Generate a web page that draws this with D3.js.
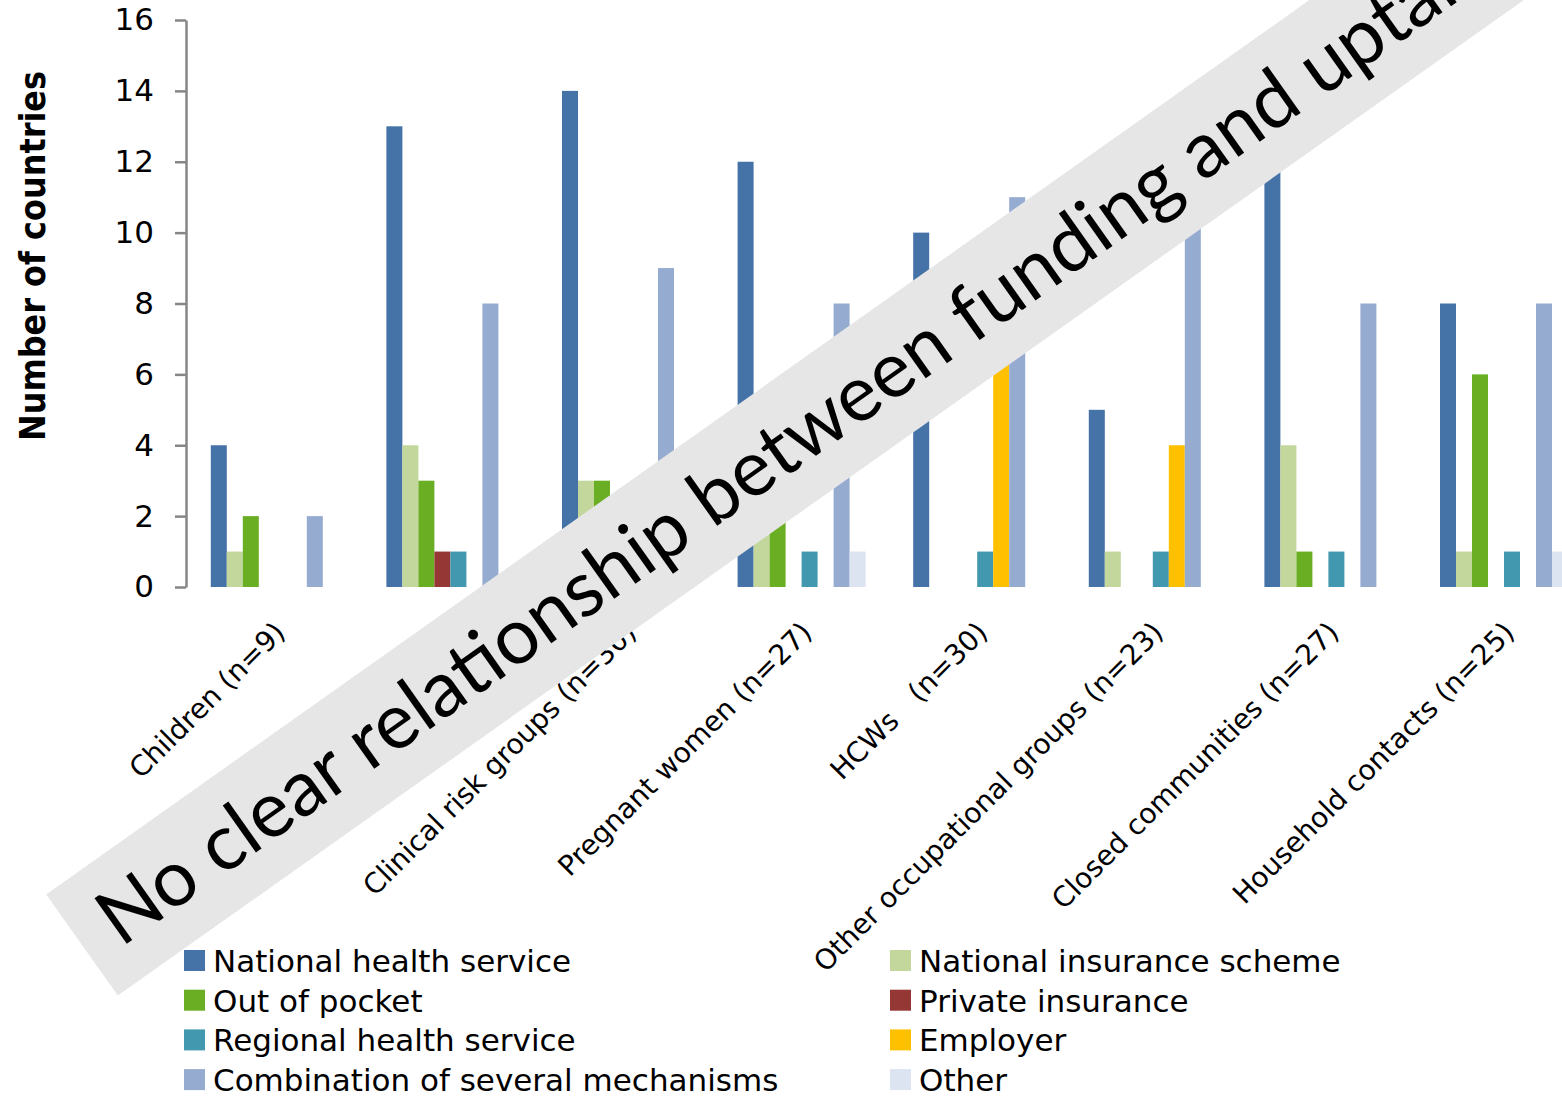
<!DOCTYPE html>
<html>
<head>
<meta charset="utf-8">
<script src="https://cdn.jsdelivr.net/npm/d3@7"></script>
<style>
  html, body { margin: 0; padding: 0; background: #fff; }
  svg { display: block; }
  text { font-family: "DejaVu Sans", Verdana, sans-serif; fill: #000; }
</style>
</head>
<body>
<svg id="chart" width="1562" height="1098"></svg>
<script>
// Target groups (n = number of countries reporting)
const categories = [
  "Children (n=9)",
  "Elderly (n=30)",
  "Clinical risk groups (n=30)",
  "Pregnant women (n=27)",
  "HCWs   (n=30)",
  "Other occupational groups (n=23)",
  "Closed communities (n=27)",
  "Household contacts (n=25)"
];

// Funding mechanisms (series), in drawing order
const seriesNames = [
  "National health service",
  "National insurance scheme",
  "Out of pocket",
  "Private insurance",
  "Regional health service",
  "Employer",
  "Combination of several mechanisms",
  "Other"
];

const seriesColors = ["#4572A7", "#C3D69B", "#6AAF23", "#953735", "#4198AF", "#FFC000", "#95ABD0", "#DBE4F0"];

// Number of countries per group, one array per funding mechanism
const nationalHealthService   = [4, 13, 14, 12, 10, 5, 13, 8];
const nationalInsuranceScheme = [1, 4, 3, 2, 0, 1, 4, 1];
const outOfPocket             = [2, 3, 3, 3, 0, 0, 1, 6];
const privateInsurance        = [0, 1, 0, 0, 0, 0, 0, 0];
const regionalHealthService   = [0, 1, 1, 1, 1, 1, 1, 1];
const employer                = [0, 0, 0, 0, 8, 4, 0, 0];
const combination             = [2, 8, 9, 8, 11, 12, 8, 8];
const otherMechanism          = [0, 0, 0, 1, 0, 0, 0, 1];

const seriesValues = [
  nationalHealthService, nationalInsuranceScheme, outOfPocket, privateInsurance,
  regionalHealthService, employer, combination, otherMechanism
];

const yTicks = [0, 2, 4, 6, 8, 10, 12, 14, 16];

const yAxisTitle = "Number of countries";
const bannerText = "No clear relationship between funding and uptake";

const svg = d3.select("#chart");

// Scales
const plotLeft = 187, plotTop = 20, plotBottom = 587;
const groupStep = 175.6;
const x0 = d3.scaleBand()
  .domain(categories)
  .range([plotLeft, plotLeft + groupStep * categories.length])
  .paddingInner(0.271)
  .paddingOuter(0.1355);
const x1 = d3.scaleBand()
  .domain(seriesNames)
  .range([0, x0.bandwidth()]);
const y = d3.scaleLinear().domain([0, 16]).range([plotBottom, plotTop]);

// Bars
const groups = svg.append("g").selectAll("g")
  .data(categories)
  .join("g")
  .attr("transform", d => `translate(${x0(d)},0)`);

groups.selectAll("rect")
  .data((c, ci) => seriesNames.map((s, si) => ({ s, si, v: seriesValues[si][ci] })))
  .join("rect")
  .attr("x", d => x1(d.s))
  .attr("width", x1.bandwidth())
  .attr("y", d => y(d.v))
  .attr("height", d => y(0) - y(d.v))
  .attr("fill", d => seriesColors[d.si]);

// Y axis
const yAxis = svg.append("g")
  .attr("transform", `translate(${plotLeft - 1},0)`)
  .call(d3.axisLeft(y).tickValues(yTicks).tickSize(11).tickSizeOuter(0).tickPadding(21));
yAxis.select(".domain").attr("stroke", "#868686").attr("stroke-width", 2.5);
yAxis.selectAll(".tick line").attr("stroke", "#868686").attr("stroke-width", 2.5);
yAxis.selectAll(".tick text")
  .attr("font-family", "'DejaVu Sans', Verdana, sans-serif")
  .attr("font-size", 31)
  .attr("fill", "#000");

// Y axis title
svg.append("text")
  .attr("transform", "translate(45,256) rotate(-90)")
  .attr("text-anchor", "middle")
  .style("font-family", "'DejaVu Sans Condensed', 'DejaVu Sans', sans-serif")
  .style("font-weight", "bold")
  .style("font-size", "35.5px")
  .text(yAxisTitle);

// Category labels, rotated
svg.append("g").selectAll("text")
  .data(categories)
  .join("text")
  .attr("transform", d => `translate(${x0(d) + x0.bandwidth() / 2 + 12},634) rotate(-45)`)
  .attr("text-anchor", "end")
  .style("font-size", "28px")
  .style("white-space", "pre")
  .text(d => d);

// Legend, two columns
const legend = svg.append("g").selectAll("g")
  .data(seriesNames)
  .join("g")
  .attr("transform", (d, i) => `translate(${i % 2 === 0 ? 184 : 890},${950 + Math.floor(i / 2) * 39.7})`);
legend.append("rect")
  .attr("width", 21).attr("height", 21)
  .attr("fill", (d, i) => seriesColors[i]);
legend.append("text")
  .attr("x", 29).attr("y", 22)
  .style("font-size", "31px")
  .text(d => d);

// Diagonal banner over the chart
const banner = svg.append("g")
  .attr("transform", "translate(82,945) rotate(-35.3)");
banner.append("rect")
  .attr("x", 0).attr("y", -62)
  .attr("width", 2400).attr("height", 124)
  .attr("fill", "#E6E6E6");
banner.append("text")
  .attr("x", 30).attr("y", 25)
  .style("font-family", "Lato, 'Open Sans', sans-serif")
  .style("font-size", "78px")
  .text(bannerText);
</script>
</body>
</html>
